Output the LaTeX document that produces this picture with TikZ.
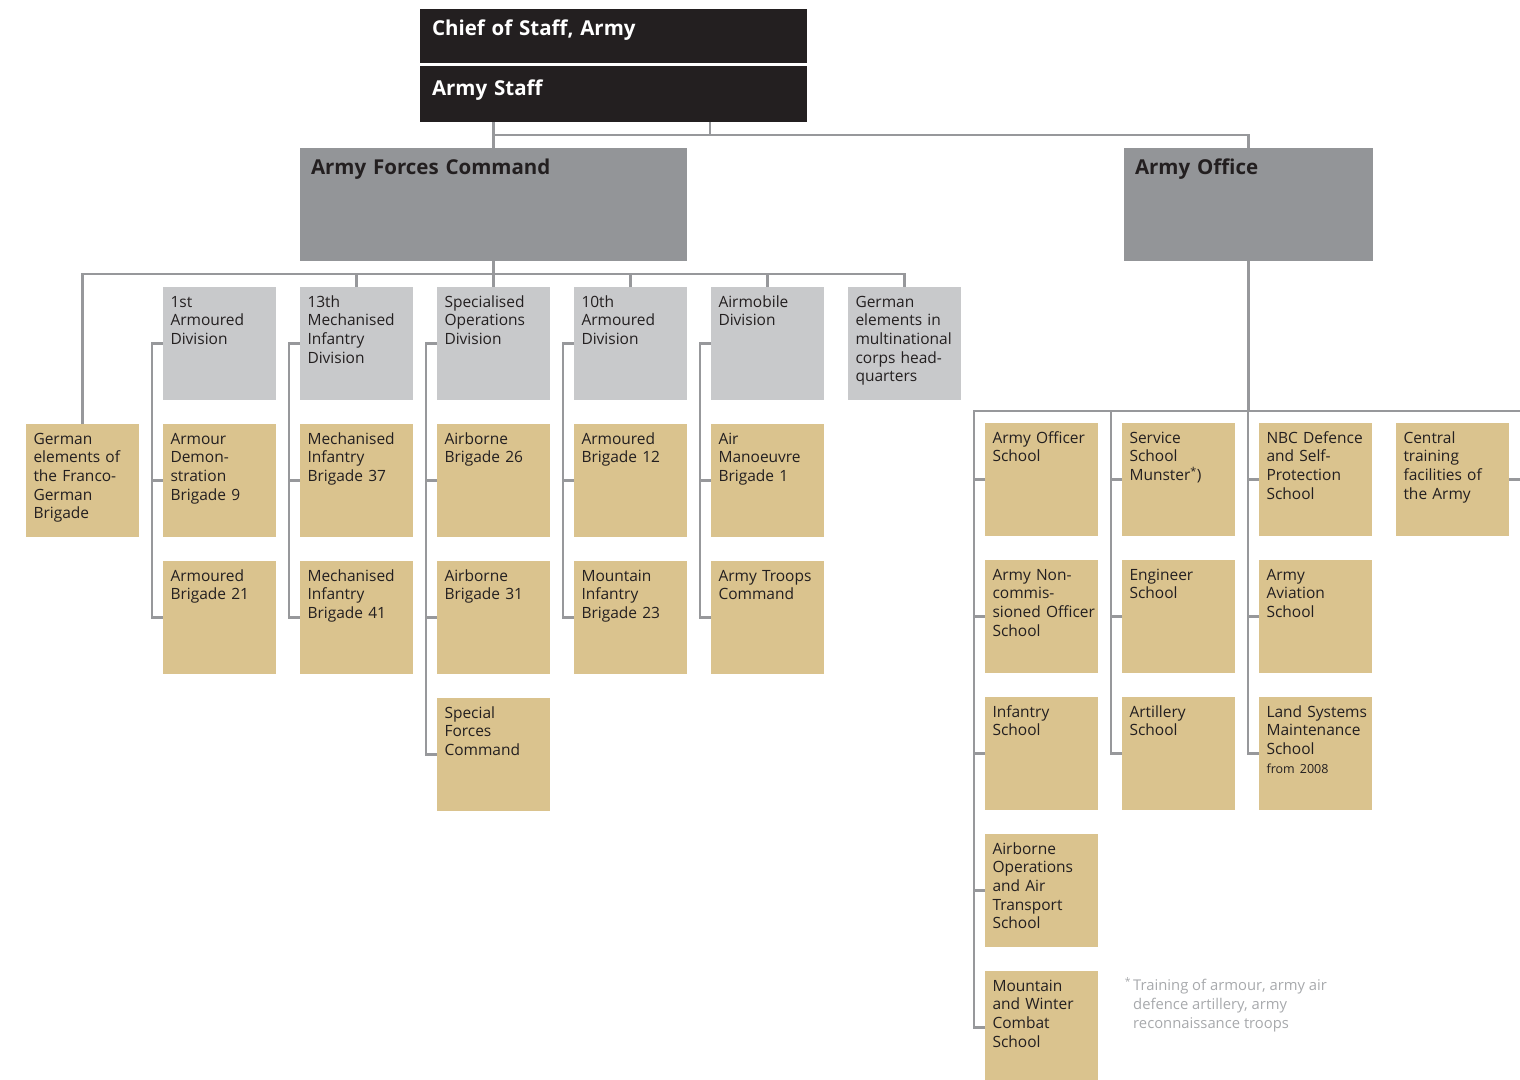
\documentclass[tikz,border=0pt]{standalone}
\usepackage{fontspec}
\setmainfont{Open Sans}
\usepackage{xcolor}
\usepackage{tikz}

\definecolor{staffblack}{HTML}{231F20}
\definecolor{commandgray}{HTML}{939598}
\definecolor{divisiongray}{HTML}{C8C9CB}
\definecolor{unittan}{HTML}{DAC38E}
\definecolor{linkgray}{HTML}{97989B}
\definecolor{notegray}{HTML}{A7A9AC}

\hyphenpenalty=10000
\exhyphenpenalty=10000

\begin{document}
\begin{tikzpicture}[x=1pt, y=-1pt,
    every node/.style={font=\fontsize{15.5}{18.7}\selectfont, text=staffblack},
    box/.style={anchor=north west, rectangle, outer sep=0pt, inner xsep=7.5pt, inner ysep=0pt,
        text width=98pt, align=left, text height=20pt, text depth=93pt},
    unit/.style={box, fill=unittan},
    division/.style={box, fill=divisiongray},
    command/.style={box, fill=commandgray, inner xsep=11pt, text height=26pt, text depth=87pt,
        font=\bfseries\fontsize{20.5}{24}\selectfont},
    staff/.style={command, fill=staffblack, text=white, inner xsep=12pt, text width=363pt,
        text height=26pt, text depth=28pt},
    link/.style={draw=linkgray, line width=2.3pt},
    note/.style={anchor=north west, inner sep=0pt, align=left, text=notegray,
        font=\fontsize{14.8}{19}\selectfont}]
    \useasboundingbox (0,0) rectangle (1520,1079);

    % Top level
    \node[staff] (chief) at (420,9) {Chief of Staff, Army};
    \node[staff, text height=29pt, text depth=27pt] (staff) at (420,66) {Army Staff};
    \node[command, text width=365pt] (afc) at (300,148) {Army Forces Command};
    \node[command, text width=227pt] (office) at (1124,148) {Army Office};

    % Army Forces Command
    \node[unit] (fgb) at (26,424) {German\\elements~of\\the Franco-\\German\\Brigade};
    \node[division] (arm1) at (163,287) {1st\\Armoured\\Division};
    \node[unit] (brig9) at (163,424) {Armour\\Demon-\\stration\\Brigade~9};
    \node[unit] (brig21) at (163,561) {Armoured\\Brigade~21};
    \node[division] (mech13) at (300,287) {13th\\Mechanised\\Infantry\\Division};
    \node[unit] (brig37) at (300,424) {Mechanised\\Infantry\\Brigade~37};
    \node[unit] (brig41) at (300,561) {Mechanised\\Infantry\\Brigade~41};
    \node[division] (specops) at (437,287) {Specialised\\Operations\\Division};
    \node[unit] (brig26) at (437,424) {Airborne\\Brigade~26};
    \node[unit] (brig31) at (437,561) {Airborne\\Brigade~31};
    \node[unit] (ksk) at (437,698) {Special\\Forces\\Command};
    \node[division] (arm10) at (574,287) {10th\\Armoured\\Division};
    \node[unit] (brig12) at (574,424) {Armoured\\Brigade~12};
    \node[unit] (brig23) at (574,561) {Mountain\\Infantry\\Brigade~23};
    \node[division] (airmob) at (711,287) {Airmobile\\Division};
    \node[unit] (brig1) at (711,424) {Air\\Manoeuvre\\Brigade~1};
    \node[unit] (troops) at (711,561) {Army~Troops\\Command};
    \node[division] (mnc) at (848,287) {German\\elements~in\\multinational\\corps~head-\\quarters};

    % Army Office
    \node[unit] (aos) at (985,423) {Army~Officer\\School};
    \node[unit] (ncos) at (985,560) {Army~Non-\\commis-\\sioned~Officer\\School};
    \node[unit] (infs) at (985,697) {Infantry\\School};
    \node[unit] (aats) at (985,834) {Airborne\\Operations\\and~Air\\Transport\\School};
    \node[unit] (mwcs) at (985,971) {Mountain\\and~Winter\\Combat\\School};
    \node[unit] (svc) at (1122,423) {Service\\School\\Munster\textsuperscript{*})};
    \node[unit] (eng) at (1122,560) {Engineer\\School};
    \node[unit] (art) at (1122,697) {Artillery\\School};
    \node[unit] (nbc) at (1259,423) {NBC~Defence\\and~Self-\\Protection\\School};
    \node[unit] (aav) at (1259,560) {Army\\Aviation\\School};
    \node[unit] (lsm) at (1259,697) {Land~Systems\\Maintenance\\School\\{\fontsize{12.5}{16}\selectfont from~2008}};
    \node[unit] (cts) at (1396,423) {Central\\training\\facilities~of\\the~Army};

    % Footnote
    \node[note] (fn) at (1133,977) {\llap{\textsuperscript{*}\hspace{2pt}}Training of armour, army air\\defence artillery, army\\reconnaissance troops};

    % Links below the Army Staff
    \coordinate (topbus) at (710,135);
    \draw[link] (topbus |- staff.south) -- (topbus);
    \draw[link] (afc.north |- staff.south) -- (afc.north);
    \draw[link] (afc.north |- topbus) -| (office.north);

    % Links below the Army Forces Command
    \coordinate (bus) at (0,274);
    \draw[link] (afc.south) -- (specops.north);
    \draw[link] (fgb.north) -- (fgb.north |- bus) -- (mnc.north |- bus) -- (mnc.north);
    \foreach \n in {mech13, arm10, airmob}
        \draw[link] (\n.north) -- (\n.north |- bus);
    \foreach \hq/\first/\last in {arm1/brig9/brig21, mech13/brig37/brig41, specops/brig26/ksk,
                                 arm10/brig12/brig23, airmob/brig1/troops} {
        \draw[link] (\hq.west) -- ++(-11,0) |- (\last.west);
        \draw[link] (\first.west) -- ++(-11,0);
    }
    \draw[link] (brig31.west) -- ++(-11,0);

    % Links below the Army Office
    \coordinate (schoolbus) at (0,411);
    \coordinate (ctsjoin) at ([xshift=13pt]cts.east);
    \draw[link] (office.south) -- (office.south |- schoolbus);
    \draw[link] (mwcs.west) -- ++(-11,0) coordinate (c) -- (c |- schoolbus)
        -- (ctsjoin |- schoolbus) -- (ctsjoin) -- (cts.east);
    \foreach \last in {art, lsm}
        \draw[link] (\last.west) -- ++(-11,0) coordinate (c) -- (c |- schoolbus);
    \foreach \n in {aos, ncos, infs, aats, svc, eng, nbc, aav}
        \draw[link] (\n.west) -- ++(-11,0);
\end{tikzpicture}
\end{document}
